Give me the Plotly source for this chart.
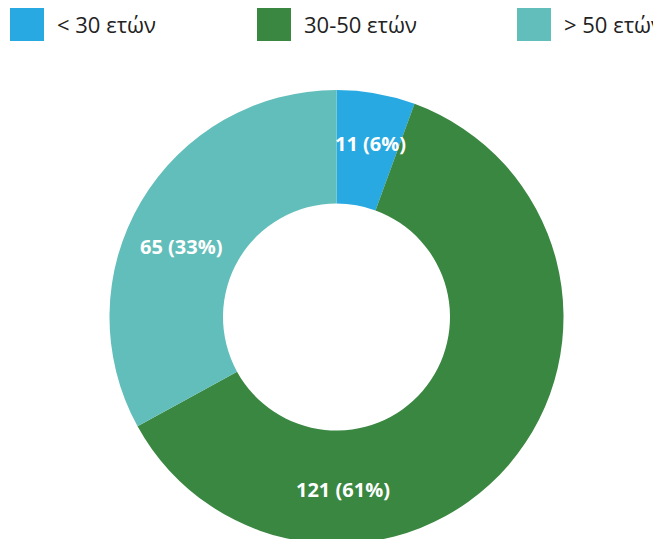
import math
import plotly.graph_objects as go

categories = ["< 30 ετών", "30-50 ετών", "> 50 ετών"]
values = [11, 121, 65]
colors = ["#29A9E1", "#3A8741", "#62BEBA"]

W, H = 661, 539
OFF = 8  # page body margin

# pie geometry (page px)
cx, cy, R = 336.5 - OFF, 317 - OFF, 227

fig = go.Figure(go.Pie(
    labels=categories,
    values=values,
    hole=0.5,
    sort=False,
    direction="clockwise",
    rotation=0,
    marker=dict(colors=colors, line=dict(width=0)),
    textinfo="none",
    hoverinfo="label+value+percent",
    domain=dict(x=[(cx - R) / W, (cx + R) / W], y=[1 - (cy + R) / H, 1 - (cy - R) / H]),
    showlegend=False,
))

# slice labels: angle (deg clockwise from top) and radius for each label
label_angles = [11, 178, 294.6]
label_radii = [177, 173, 170]
total = sum(values)
annots = []
for v, ang, rr in zip(values, label_angles, label_radii):
    px = cx + rr * math.sin(math.radians(ang))
    py = cy - rr * math.cos(math.radians(ang))
    annots.append(dict(text=f"{v} ({round(100 * v / total)}%)", xref="paper", yref="paper",
                       x=px / W, y=1 - py / H, xanchor="center", yanchor="middle",
                       showarrow=False,
                       font=dict(family="Open Sans, sans-serif", size=20, color="white", weight="bold")))

# custom legend (large square swatches) in paper coordinates
legend_x = [10, 257, 517]
shapes = []
for cat, col, lx in zip(categories, colors, legend_x):
    x0 = lx - OFF
    shapes.append(dict(type="rect", xref="paper", yref="paper",
                       x0=x0 / W, x1=(x0 + 34) / W,
                       y0=1 - (41 - OFF) / H, y1=1 - (7 - OFF) / H,
                       fillcolor=col, line=dict(width=0)))
    annots.append(dict(text=cat, xref="paper", yref="paper",
                       x=(x0 + 45) / W, y=1 - (24 - OFF) / H,
                       xanchor="left", yanchor="middle", showarrow=False,
                       font=dict(family="Open Sans, sans-serif", size=22, color="#222222")))

fig.update_layout(
    width=W, height=H,
    margin=dict(l=0, r=0, t=0, b=0),
    paper_bgcolor="white",
    plot_bgcolor="white",
    shapes=shapes,
    annotations=annots,
)

fig.write_html("out.html")
